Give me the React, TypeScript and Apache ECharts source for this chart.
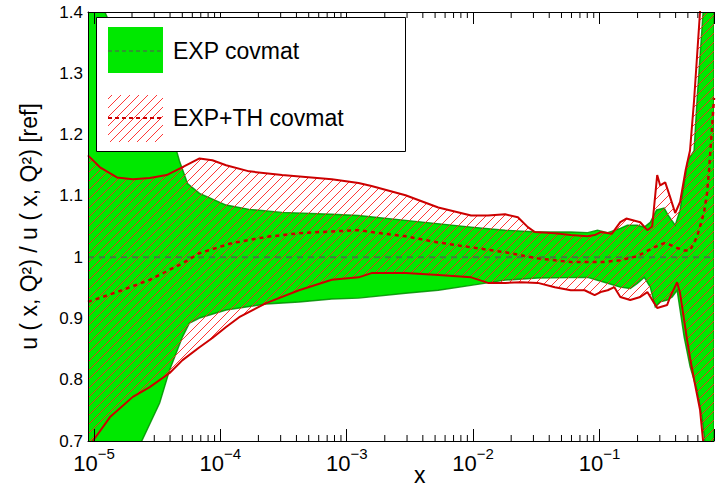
import React, { useEffect, useRef } from "react";
import * as echarts from "echarts";

const X_MIN = 8.97e-6;
const X_MAX = 0.805;
const Y_MIN = 0.7;
const Y_MAX = 1.4;
const Y_INTERVAL = 0.1;

const MAJOR_TICKS = [1e-5, 1e-4, 1e-3, 1e-2, 1e-1];
const MINOR_MANTISSAS = [2, 3, 4, 5, 6, 7, 8, 9];

const LEGEND_LABELS = ["EXP covmat", "EXP+TH covmat"];
const Y_NAME = "u ( x, Q²) / u ( x, Q²) [ref]";
const X_NAME = "x";

// EXP covmat band (green)
const greenUpper: [number, number][] = [
  [8.97e-6, 1.62], [1.22e-5, 1.4], [2.0e-5, 1.3], [3.2e-5, 1.22], [4.51e-5, 1.173],
  [4.75e-5, 1.157], [5.5e-5, 1.12], [6.84e-5, 1.104], [1.11e-4, 1.085], [1.69e-4, 1.078],
  [3.08e-4, 1.073], [7.62e-4, 1.07], [1.24e-3, 1.068], [2.92e-3, 1.06], [9.64e-3, 1.049],
  [1.79e-2, 1.044], [3.25e-2, 1.041], [5.92e-2, 1.041], [8.05e-2, 1.04], [9.64e-2, 1.044],
  [0.116, 1.04], [0.146, 1.047], [0.166, 1.052], [0.199, 1.052], [0.226, 1.049],
  [0.252, 1.057], [0.283, 1.077], [0.325, 1.08], [0.35, 1.068], [0.397, 1.052],
  [0.434, 1.077], [0.467, 1.12], [0.5, 1.158], [0.56, 1.174], [0.591, 1.256],
  [0.66, 1.4], [0.72, 1.55], [0.805, 1.7],
];
const greenLower: [number, number][] = [
  [8.97e-6, 0.5], [2.39e-5, 0.7], [3.31e-5, 0.762], [3.97e-5, 0.816], [5.02e-5, 0.87],
  [5.7e-5, 0.8925], [6.84e-5, 0.9007], [1.11e-4, 0.9137], [2.3e-4, 0.9235], [4.19e-4, 0.9267],
  [7.62e-4, 0.9316], [1.24e-3, 0.9332], [2.92e-3, 0.941], [5.3e-3, 0.946], [9.64e-3, 0.954],
  [1.79e-2, 0.9625], [3.25e-2, 0.966], [8.05e-2, 0.967], [0.109, 0.959], [0.146, 0.951],
  [0.175, 0.949], [0.199, 0.957], [0.226, 0.967], [0.252, 0.951], [0.276, 0.919],
  [0.302, 0.927], [0.343, 0.93], [0.376, 0.935], [0.411, 0.946], [0.467, 0.87],
  [0.521, 0.821], [0.591, 0.783], [0.647, 0.739], [0.68, 0.7], [0.805, 0.5],
];

// EXP+TH covmat band (red hatched)
const redUpper: [number, number][] = [
  [8.97e-6, 1.166], [1.11e-5, 1.147], [1.52e-5, 1.13], [2.03e-5, 1.127], [2.76e-5, 1.129],
  [3.76e-5, 1.134], [5.02e-5, 1.147], [6.84e-5, 1.161], [8.65e-5, 1.158], [1.11e-4, 1.15],
  [1.69e-4, 1.14], [3.08e-4, 1.134], [7.62e-4, 1.127], [1.24e-3, 1.121], [1.57e-3, 1.116],
  [2.92e-3, 1.101], [5.3e-3, 1.081], [9.64e-3, 1.068], [1.31e-2, 1.068], [1.79e-2, 1.07],
  [2.26e-2, 1.065], [2.71e-2, 1.049], [3.08e-2, 1.041], [4.43e-2, 1.039], [5.92e-2, 1.036],
  [8.05e-2, 1.034], [9.15e-2, 1.036], [0.102, 1.041], [0.125, 1.038], [0.146, 1.057],
  [0.163, 1.063], [0.21, 1.057], [0.239, 1.044], [0.261, 1.05], [0.286, 1.134],
  [0.302, 1.117], [0.331, 1.122], [0.362, 1.098], [0.397, 1.072], [0.434, 1.09],
  [0.48, 1.142], [0.52, 1.174], [0.56, 1.256], [0.624, 1.4], [0.7, 1.6], [0.805, 1.8],
];
const redLower: [number, number][] = [
  [8.97e-6, 0.69], [9.8e-6, 0.7], [1.34e-5, 0.739], [2.03e-5, 0.772], [2.76e-5, 0.788],
  [3.97e-5, 0.811], [5.02e-5, 0.832], [6.84e-5, 0.853], [8.65e-5, 0.868], [1.11e-4, 0.886],
  [1.41e-4, 0.902], [2.3e-4, 0.925], [4.19e-4, 0.946], [7.62e-4, 0.963], [1.24e-3, 0.967],
  [1.57e-3, 0.974], [2.92e-3, 0.974], [5.3e-3, 0.971], [9.64e-3, 0.967], [1.31e-2, 0.958],
  [1.79e-2, 0.958], [2.39e-2, 0.959], [3.25e-2, 0.958], [4.43e-2, 0.951], [5.92e-2, 0.946],
  [7.62e-2, 0.946], [9.15e-2, 0.938], [0.102, 0.943], [0.116, 0.946], [0.131, 0.951],
  [0.146, 0.935], [0.175, 0.93], [0.21, 0.935], [0.239, 0.943], [0.271, 0.925],
  [0.286, 0.917], [0.343, 0.922], [0.362, 0.935], [0.411, 0.959], [0.434, 0.941],
  [0.493, 0.865], [0.521, 0.835], [0.57, 0.792], [0.624, 0.751], [0.66, 0.7], [0.805, 0.4],
];
const redCentral: [number, number][] = [
  [8.97e-6, 0.927], [1.52e-5, 0.943], [2.76e-5, 0.963], [5.02e-5, 0.99], [6.84e-5, 1.0065],
  [1.24e-4, 1.023], [2.3e-4, 1.033], [4.19e-4, 1.039], [7.62e-4, 1.042], [1.24e-3, 1.044],
  [1.57e-3, 1.041], [2.92e-3, 1.034], [5.3e-3, 1.024], [9.64e-3, 1.016], [1.79e-2, 1.008],
  [3.25e-2, 0.998], [5.92e-2, 0.992], [0.109, 0.992], [0.146, 0.995], [0.199, 1.0016],
  [0.271, 1.016], [0.325, 1.023], [0.362, 1.02], [0.411, 1.015], [0.467, 1.011],
  [0.521, 1.011], [0.59, 1.033], [0.67, 1.072], [0.709, 1.104], [0.735, 1.142],
  [0.77, 1.2], [0.805, 1.26],
];
const greenCentral: [number, number][] = [[X_MIN, 1], [X_MAX, 1]];

const FONT = "Liberation Sans, Arial, Helvetica, sans-serif";
const GREEN = "#00e800";
const GREEN_EDGE = "rgba(0,140,0,0.85)";
const GREEN_DASH = "#3f7f3f";
const RED_LINE = "#cc0000";

function makeHatch(): HTMLCanvasElement {
  const s = 9;
  const c = document.createElement("canvas");
  c.width = s;
  c.height = s;
  const ctx = c.getContext("2d")!;
  ctx.strokeStyle = "#ff2020";
  ctx.lineWidth = 0.9;
  ctx.beginPath();
  ctx.moveTo(-1, s + 1);
  ctx.lineTo(s + 1, -1);
  ctx.moveTo(-1, 1);
  ctx.lineTo(1, -1);
  ctx.moveTo(s - 1, s + 1);
  ctx.lineTo(s + 1, s - 1);
  ctx.stroke();
  return c;
}

export default function App() {
  const ref = useRef<HTMLDivElement>(null);

  useEffect(() => {
    if (!ref.current) return;
    const chart = echarts.init(ref.current, null, { renderer: "svg" });
    const hatchCanvas = makeHatch();
    const hatch: any = { image: hatchCanvas, repeat: "repeat", imageWidth: 9, imageHeight: 9 };

    const minorTicks: number[] = [];
    MAJOR_TICKS.forEach((m) => {
      MINOR_MANTISSAS.forEach((k) => {
        const v = k * m;
        if (v > X_MIN && v < X_MAX) minorTicks.push(v);
      });
    });

    const band = (upper: [number, number][], lower: [number, number][], style: any, z: number) => ({
      type: "custom",
      coordinateSystem: "cartesian2d",
      clip: true,
      silent: true,
      z,
      data: [[1e-3, 1]],
      encode: { x: 0, y: 1 },
      renderItem: (_p: any, api: any) => {
        const pts = upper.map((p) => api.coord(p)).concat(lower.slice().reverse().map((p) => api.coord(p)));
        return { type: "polygon", shape: { points: pts }, style };
      },
    });

    const line = (data: [number, number][], color: string, width: number, type: any, z: number) => ({
      type: "line",
      data,
      showSymbol: false,
      symbol: "none",
      silent: true,
      clip: true,
      z,
      lineStyle: { color, width, type },
    });

    // Minor ticks: short vertical segments through the library's scales
    const PX = (Y_MAX - Y_MIN) / 429;
    const tickLine = (values: number[], yv: number, dy: number) => {
      const data: any[] = [];
      values.forEach((v) => {
        data.push([v, yv], [v, yv + dy], "-");
      });
      return {
        type: "line",
        data,
        connectNulls: false,
        showSymbol: false,
        symbol: "none",
        silent: true,
        clip: false,
        z: 1,
        lineStyle: { color: "#000", width: 1 },
      };
    };

    const LZ = 100;
    const labelFormatter = (v: number) => {
      const l = Math.log10(v);
      const r = Math.round(l);
      if (Math.abs(l - r) > 0.01) return "";
      return `{b|10}{s|−${-r}}`;
    };

    chart.setOption({
      animation: false,
      textStyle: { fontFamily: FONT },
      grid: { left: 88, right: 0, top: 12, bottom: 46 },
      xAxis: [
        {
          type: "log",
          logBase: 10,
          min: X_MIN,
          max: X_MAX,
          position: "bottom",
          z: 10,
          axisLine: { show: true, lineStyle: { color: "#000", width: 1 } },
          axisTick: { show: true, inside: true, length: 12, lineStyle: { color: "#000", width: 1 } },
          splitLine: { show: false },
          axisLabel: {
            margin: 5,
            color: "#000",
            formatter: labelFormatter,
            rich: {
              b: { fontSize: 22, fontFamily: FONT, color: "#000", verticalAlign: "bottom", lineHeight: 28 },
              s: { fontSize: 15, fontFamily: FONT, color: "#000", verticalAlign: "top", lineHeight: 18 },
            },
          },
        },
        {
          type: "log",
          logBase: 10,
          min: X_MIN,
          max: X_MAX,
          position: "top",
          z: 10,
          axisLine: { show: true, lineStyle: { color: "#000", width: 1 } },
          axisTick: { show: true, inside: true, length: 12, lineStyle: { color: "#000", width: 1 } },
          axisLabel: { show: false },
          splitLine: { show: false },
        },
      ],
      yAxis: {
        type: "value",
        min: Y_MIN,
        max: Y_MAX,
        interval: Y_INTERVAL,
        z: 10,
        axisLine: { show: true, lineStyle: { color: "#000", width: 1 } },
        axisTick: { show: false },
        splitLine: { show: false },
        axisLabel: { fontSize: 17, color: "#000", margin: 5, fontFamily: FONT },
        name: Y_NAME,
        nameLocation: "middle",
        nameGap: 48,
        nameTextStyle: { fontSize: 23, color: "#000", fontFamily: FONT },
      },
      graphic: [
        {
          type: "text",
          left: 414,
          top: 463,
          z: LZ,
          style: { text: X_NAME, fontSize: 23, fontFamily: FONT, fill: "#000" },
        },
        { type: "rect", z: LZ, shape: { x: 96.5, y: 17.5, width: 309, height: 134 }, style: { fill: "#fff", stroke: "#000", lineWidth: 1 } },
        { type: "rect", z: LZ + 1, shape: { x: 108, y: 27, width: 55, height: 46 }, style: { fill: GREEN } },
        { type: "line", z: LZ + 2, shape: { x1: 108, y1: 51, x2: 163, y2: 51 }, style: { stroke: GREEN_DASH, lineWidth: 1.5, lineDash: [4, 3] } },
        { type: "text", z: LZ + 2, x: 173, y: 51, style: { text: LEGEND_LABELS[0], fontSize: 23, fontFamily: FONT, fill: "#000", verticalAlign: "middle" } },
        { type: "rect", z: LZ + 1, shape: { x: 108, y: 95, width: 55, height: 47 }, style: { fill: hatch } },
        { type: "line", z: LZ + 2, shape: { x1: 108, y1: 118, x2: 163, y2: 118 }, style: { stroke: RED_LINE, lineWidth: 2, lineDash: [4, 3] } },
        { type: "text", z: LZ + 2, x: 173, y: 118, style: { text: LEGEND_LABELS[1], fontSize: 23, fontFamily: FONT, fill: "#000", verticalAlign: "middle" } },
      ],
      series: [
        tickLine(minorTicks, Y_MIN, 6 * PX),
        tickLine(minorTicks, Y_MAX, -6 * PX),
        band(greenUpper, greenLower, { fill: GREEN, stroke: GREEN_EDGE, lineWidth: 1.4 }, 2),
        band(redUpper, redLower, { fill: hatch }, 3),
        line(greenCentral, GREEN_DASH, 2, [6, 5], 4),
        line(redUpper, RED_LINE, 2, "solid", 5),
        line(redLower, RED_LINE, 2, "solid", 5),
        line(redCentral, RED_LINE, 2.5, [4, 4], 5),
      ],
    });

    return () => chart.dispose();
  }, []);

  return (
    <div
      ref={ref}
      style={{ position: "fixed", left: 0, top: 0, width: 717, height: 487, background: "#fff" }}
    />
  );
}
